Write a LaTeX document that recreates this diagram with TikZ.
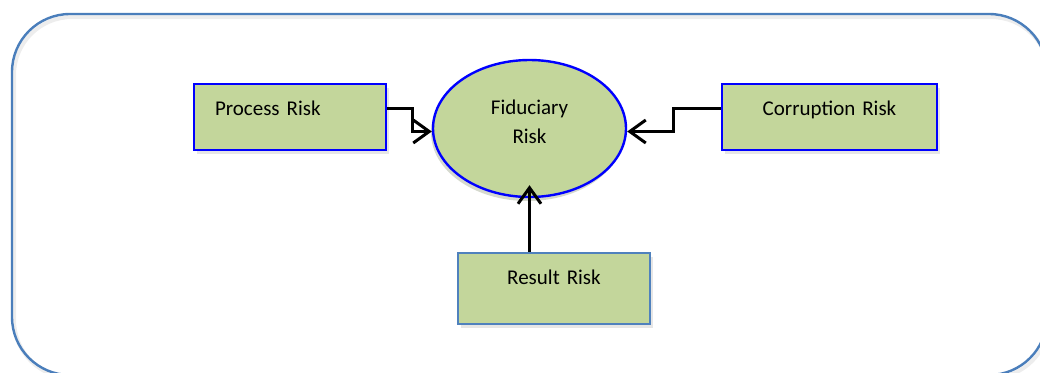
\documentclass[tikz,border=0pt]{standalone}
\usepackage{fontspec}
\setmainfont{Carlito}
\usetikzlibrary{arrows.meta,shapes.geometric,shadows,positioning}
\definecolor{riskgreen}{HTML}{C3D69B}
\definecolor{frameblue}{HTML}{4A7EBB}
\definecolor{resblue}{HTML}{4F81BD}

\begin{document}
\begin{tikzpicture}[x=1pt,y=-1pt,>={Straight Barb[length=16pt,width=23pt]},
  link/.style={->,line width=3pt,black},
  riskbox/.style={draw=blue,line width=2.4pt,fill=riskgreen,inner ysep=0pt,inner xsep=21pt,
    drop shadow={shadow xshift=3pt,shadow yshift=-4pt,opacity=.2},
    font=\fontsize{21}{29}\selectfont},
  riskoval/.style={ellipse,draw=blue,line width=2.4pt,fill=riskgreen,inner sep=0pt,
    minimum width=193pt,minimum height=137pt,align=center,text depth=14pt,
    drop shadow={shadow xshift=-2pt,shadow yshift=-4pt,opacity=.3,fill=riskgreen!60!black},
    font=\fontsize{21}{29}\selectfont}]
\useasboundingbox (0,0) rectangle (1040,372);
% outer frame
\begin{scope}
\clip (0,0) rectangle (1040,372);
\draw[black!7,line width=4pt,rounded corners=58pt] (14,17) rectangle (1049,378);
\draw[frameblue,line width=2.4pt,rounded corners=58pt] (12,14) rectangle (1047,375);
\end{scope}

\node (fid) [riskoval] at (529.5,128.5) {Fiduciary\\Risk};
\node (proc) [riskbox,text width=150pt,align=left,text height=31pt,text depth=35pt] at (290,117) {Process Risk};
\node (cor) [riskbox,text width=173pt,align=center,text height=31pt,text depth=35pt] at (829.5,117) {Corruption Risk};
\node (res) [riskbox,draw=resblue,text width=150pt,align=center,text height=31pt,text depth=40pt] at (554,288.5) {Result Risk};

\draw[link] ([yshift=9pt]proc.east) -- ++(25,0) |- ([yshift=-3pt]fid.west);
\draw[link] ([yshift=9pt]cor.west) -- ++(-47,0) |- ([yshift=-3pt]fid.east);
\draw[link] (fid.south |- res.north) -- ([yshift=13pt]fid.south);
\end{tikzpicture}
\end{document}
